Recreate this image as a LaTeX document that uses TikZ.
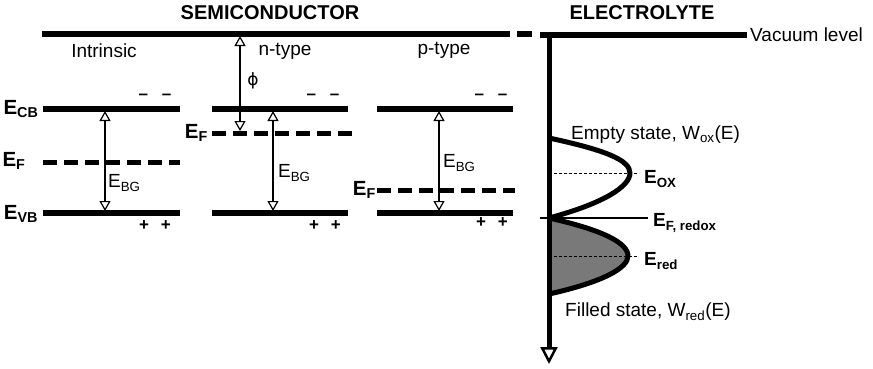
\documentclass[tikz,border=0pt]{standalone}
\usepackage{fontspec}
\setmainfont{Liberation Sans}
\newfontfamily\symfont{DejaVu Sans}
\usetikzlibrary{arrows.meta}
\begin{document}
\begin{tikzpicture}[x=1pt,y=-1pt,
  band/.style={line width=5.5pt},
  fermi/.style={line width=5pt, dash pattern=on 14pt off 7pt},
  gaparrow/.style={line width=1.2pt, {Triangle[open,length=10pt,width=11pt]}-{Triangle[open,length=10pt,width=11pt]}},
  lbl/.style={font=\fontsize{19}{21}\selectfont, inner sep=0pt},
  blbl/.style={font=\fontsize{19}{21}\selectfont\bfseries, inner sep=0pt},
  elbl/.style={font=\fontsize{20.5}{22}\selectfont\bfseries, inner sep=0pt},
  ttl/.style={font=\fontsize{20}{22}\selectfont\bfseries, inner sep=0pt},
  chg/.style={font=\fontsize{17}{19}\selectfont\bfseries, inner sep=0pt},
  curve/.style={line width=5pt, line join=round},
  guide/.style={line width=0.8pt, dash pattern=on 3pt off 2pt},
]
\useasboundingbox (0,0) rectangle (873,368);

% titles
\node[ttl] (semi) at (270,13) {SEMICONDUCTOR};
\node[ttl] (elec) at (642,13) {ELECTROLYTE};

% vacuum level
\coordinate (v1) at (42,34); \coordinate (v2) at (510,34);
\coordinate (v3) at (517,34); \coordinate (v4) at (532,34);
\coordinate (v5) at (540,35); \coordinate (v6) at (747,35);
\draw[band] (v1) -- (v2);
\draw[band] (v3) -- (v4);
\draw[band] (v5) -- (v6);
\node[lbl, anchor=west] (vac) at (750,35) {Vacuum level};

% type labels
\node[lbl] (intr) at (104,51) {Intrinsic};
\node[lbl] (ntyp) at (285,51) {n-type};
\node[lbl] (ptyp) at (444,50) {p-type};

% band edges
\coordinate (ic1) at (43,109);  \coordinate (ic2) at (180,109);
\coordinate (iv1) at (43,213);  \coordinate (iv2) at (180,213);
\coordinate (nc1) at (212,109); \coordinate (nc2) at (348,109);
\coordinate (nv1) at (212,213); \coordinate (nv2) at (348,213);
\coordinate (pc1) at (377,109); \coordinate (pc2) at (513,109);
\coordinate (pv1) at (377,213); \coordinate (pv2) at (513,213);
\foreach \a/\b in {ic1/ic2,iv1/iv2,nc1/nc2,nv1/nv2,pc1/pc2,pv1/pv2}
  \draw[band] (\a) -- (\b);

% Fermi levels
\coordinate (if1) at (43,162);  \coordinate (if2) at (180,162);
\coordinate (nf1) at (212,133); \coordinate (nf2) at (352,133);
\coordinate (pf1) at (377,190); \coordinate (pf2) at (515,190);
\draw[fermi] (if1) -- (if2);
\draw[fermi] (nf1) -- (nf2);
\draw[fermi] (pf1) -- (pf2);

% side labels
\node[elbl] (ecb) at (21,109) {E\textsubscript{CB}};
\node[elbl] (efi) at (14,161) {E\textsubscript{F}};
\node[elbl] (evb) at (21,214) {E\textsubscript{VB}};
\node[elbl, anchor=east] (efn) at (208,133) {E\textsubscript{F}};
\node[elbl, anchor=east] (efp) at (376,190) {E\textsubscript{F}};

% band gap arrows
\coordinate (ia1) at (105,111); \coordinate (ia2) at (105,211);
\coordinate (na1) at (273,111); \coordinate (na2) at (273,211);
\coordinate (pa1) at (439,111); \coordinate (pa2) at (439,211);
\draw[gaparrow] (ia1) -- (ia2);
\draw[gaparrow] (na1) -- (na2);
\draw[gaparrow] (pa1) -- (pa2);
\node[lbl, anchor=west] (bgi) at (108,183) {E\textsubscript{BG}};
\node[lbl, anchor=west] (bgn) at (278,173) {E\textsubscript{BG}};
\node[lbl, anchor=west] (bgp) at (443,163) {E\textsubscript{BG}};

% work function arrow
\coordinate (ph1) at (240,36); \coordinate (ph2) at (240,131);
\draw[gaparrow] (ph1) -- (ph2);
\node[font=\fontsize{17}{19}\selectfont\symfont, inner sep=0pt] (phi) at (253,81) {ϕ};

% charges
\node[chg] (mi) at (155,97) {–\hspace{14pt}–};
\node[chg] (mn) at (323,97) {–\hspace{14pt}–};
\node[chg] (mp) at (491,97) {–\hspace{14pt}–};
\node[chg] (pli) at (155,226) {+\hspace{12pt}+};
\node[chg] (pln) at (325,226) {+\hspace{12pt}+};
\node[chg] (plp) at (492,223) {+\hspace{12pt}+};

% electrolyte distributions
\coordinate (a0) at (549,138);
\coordinate (aox) at (549,173);
\coordinate (afr) at (549,218);
\coordinate (ared) at (549,256);
\coordinate (a3) at (549,294);
\coordinate (tox) at (630,173);
\coordinate (tred) at (628,256);
\fill[gray!95!black] (afr) .. controls (603,230) and (628,243) .. (tred)
   .. controls (628,268) and (603,282) .. (a3) -- cycle;
\draw[curve] (a0) .. controls (605,150) and (630,160) .. (tox)
   .. controls (630,186) and (605,203) .. (afr);
\draw[curve] (afr) .. controls (603,230) and (628,243) .. (tred)
   .. controls (628,268) and (603,282) .. (a3);
\coordinate (gox) at (639,173); \coordinate (gred) at (638,256);
\draw[guide] (aox) -- (gox);
\draw[guide] (ared) -- (gred);
\coordinate (fr1) at (540,218); \coordinate (fr2) at (648,218);
\draw[line width=1.2pt] (fr1) -- (fr2);

% energy axis
\coordinate (ax1) at (549,33); \coordinate (ax2) at (549,364);
\draw[line width=5pt, -{Triangle[open,length=17pt,width=17pt,line width=2.5pt]}] (ax1) -- (ax2);

% electrolyte labels
\node[blbl, anchor=west] (eox) at (644,179) {E\textsubscript{OX}};
\node[blbl, anchor=west] (ered) at (644,261) {E\textsubscript{red}};
\node[blbl, anchor=west] (efr) at (653,223) {E\textsubscript{F, redox}};
\node[lbl, anchor=west] (empty) at (571,135) {Empty state, W\textsubscript{ox}(E)};
\node[lbl, anchor=west] (filled) at (565,312) {Filled state, W\textsubscript{red}(E)};
\end{tikzpicture}
\end{document}
